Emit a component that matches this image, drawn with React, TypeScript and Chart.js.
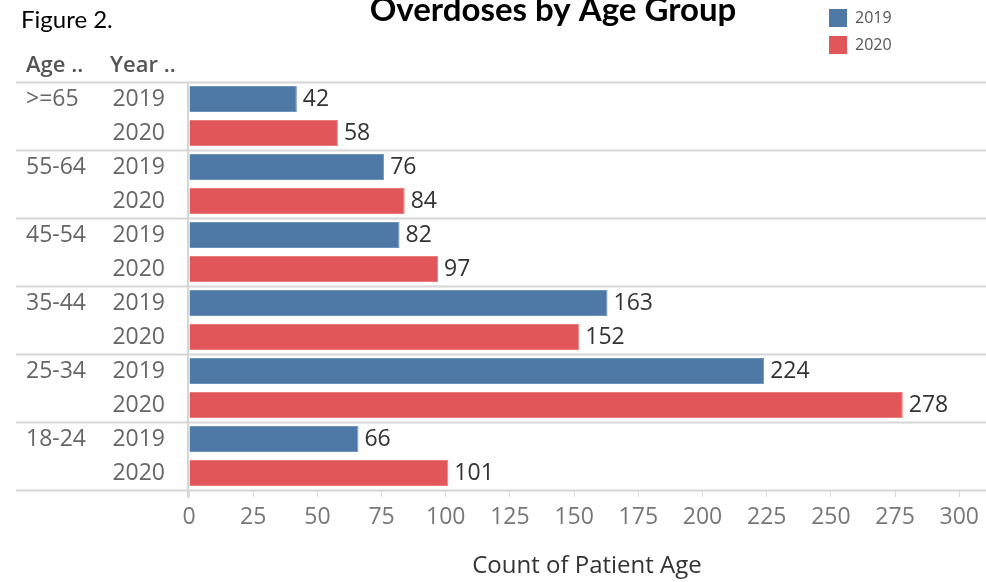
import React, { useEffect, useRef } from "react";
import { Chart, registerables } from "chart.js";

Chart.register(...registerables);

const AGE_GROUPS = [">=65", "55-64", "45-54", "35-44", "25-34", "18-24"];
const YEARS = ["2019", "2020"];
const VALUES_2019 = [42, 76, 82, 163, 224, 66];
const VALUES_2020 = [58, 84, 97, 152, 278, 101];
const X_TICKS = [0, 25, 50, 75, 100, 125, 150, 175, 200, 225, 250, 275, 300];
const X_MAX = 310;
const COLORS = ["#4e79a7", "#e15759"];
const BORDERS = ["#6f93bd", "#ec7b7d"];

const TITLE = "Overdoses by Age Group";
const FIGURE_LABEL = "Figure 2.";
const AXIS_TITLE = "Count of Patient Age";
const HEADERS = ["Age ..", "Year .."];

const LABEL_FONT = "23px 'Open Sans'";

const decorPlugin = {
  id: "decor",
  beforeDatasetsDraw(chart: any) {
    const ctx = chart.ctx;
    const area = chart.chartArea;
    const n = AGE_GROUPS.length;
    const cw = (area.bottom - area.top) / n;
    ctx.save();
    ctx.strokeStyle = "#d6d6d6";
    ctx.lineWidth = 2;
    for (let k = 0; k <= n; k++) {
      const y = Math.round(area.top + k * cw) + 0.5;
      ctx.beginPath();
      ctx.moveTo(16, y);
      ctx.lineTo(chart.width, y);
      ctx.stroke();
    }
    ctx.beginPath();
    ctx.moveTo(area.left - 1, area.top);
    ctx.lineTo(area.left - 1, area.bottom + 8);
    ctx.stroke();
    ctx.restore();
  },
  afterDraw(chart: any) {
    const ctx = chart.ctx;
    ctx.save();
    // title
    ctx.fillStyle = "#000";
    ctx.textBaseline = "alphabetic";
    ctx.textAlign = "center";
    ctx.font = "bold 33px Lato";
    ctx.fillText(TITLE, 553, 21);
    // figure label
    ctx.textAlign = "left";
    ctx.font = "24px Lato";
    ctx.fillText(FIGURE_LABEL, 21, 28);
    // legend
    ctx.textBaseline = "middle";
    YEARS.forEach((yr, i) => {
      const y = 9 + i * 27;
      ctx.fillStyle = COLORS[i];
      ctx.fillRect(829, y, 18, 18);
      ctx.fillStyle = "#555";
      ctx.font = "16px 'Open Sans'";
      ctx.fillText(yr, 855, y + 9);
    });
    // headers
    ctx.fillStyle = "#555";
    ctx.font = "600 22px 'Open Sans'";
    ctx.fillText(HEADERS[0], 26, 66);
    ctx.fillText(HEADERS[1], 110, 66);
    // row labels and data labels
    chart.data.datasets.forEach((ds: any, d: number) => {
      const meta = chart.getDatasetMeta(d);
      meta.data.forEach((bar: any, j: number) => {
        ctx.font = LABEL_FONT;
        ctx.fillStyle = "#666";
        ctx.textAlign = "right";
        ctx.fillText(YEARS[d], 165, bar.y);
        if (d === 0) {
          ctx.textAlign = "left";
          ctx.fillText(AGE_GROUPS[j], 26, bar.y);
        }
        ctx.textAlign = "left";
        ctx.fillStyle = "#333";
        ctx.fillText(String(ds.data[j]), bar.x + 6, bar.y);
      });
    });
    ctx.restore();
  },
};

export default function App() {
  const ref = useRef<HTMLCanvasElement>(null);
  useEffect(() => {
    if (!ref.current) return;
    const chart = new Chart(ref.current, {
      type: "bar",
      data: {
        labels: AGE_GROUPS,
        datasets: [
          {
            label: YEARS[0],
            data: VALUES_2019,
            backgroundColor: COLORS[0],
            borderColor: BORDERS[0],
            borderWidth: 1,
            categoryPercentage: 1,
            barPercentage: 0.765,
          },
          {
            label: YEARS[1],
            data: VALUES_2020,
            backgroundColor: COLORS[1],
            borderColor: BORDERS[1],
            borderWidth: 1,
            categoryPercentage: 1,
            barPercentage: 0.765,
          },
        ],
      },
      options: {
        indexAxis: "y",
        responsive: false,
        animation: false,
        devicePixelRatio: 1,
        layout: { padding: { left: 189, top: 82, right: 0, bottom: 0 } },
        plugins: {
          legend: { display: false },
          tooltip: { enabled: false },
        },
        scales: {
          y: { display: false },
          x: {
            min: 0,
            max: X_MAX,
            afterBuildTicks: (axis: any) => {
              axis.ticks = X_TICKS.map((v) => ({ value: v }));
            },
            afterFit: (scale: any) => {
              scale.height = 92;
            },
            ticks: {
              color: "#777",
              font: { family: "'Open Sans'", size: 23 },
              padding: 7,
              maxRotation: 0,
              autoSkip: false,
            },
            grid: {
              display: true,
              drawOnChartArea: false,
              drawTicks: true,
              tickLength: 7,
              color: "#dcdcdc",
            },
            border: { display: false },
            title: {
              display: true,
              text: AXIS_TITLE,
              color: "#333",
              font: { family: "'Open Sans'", size: 24, weight: "500" },
              padding: { top: 0, bottom: 1 },
            },
          },
        },
      },
      plugins: [decorPlugin],
    });
    return () => chart.destroy();
  }, []);
  return (
    <div style={{ position: "absolute", left: 0, top: 0, width: 986, height: 582, background: "#fff" }}>
      <canvas ref={ref} width={986} height={582} />
    </div>
  );
}
